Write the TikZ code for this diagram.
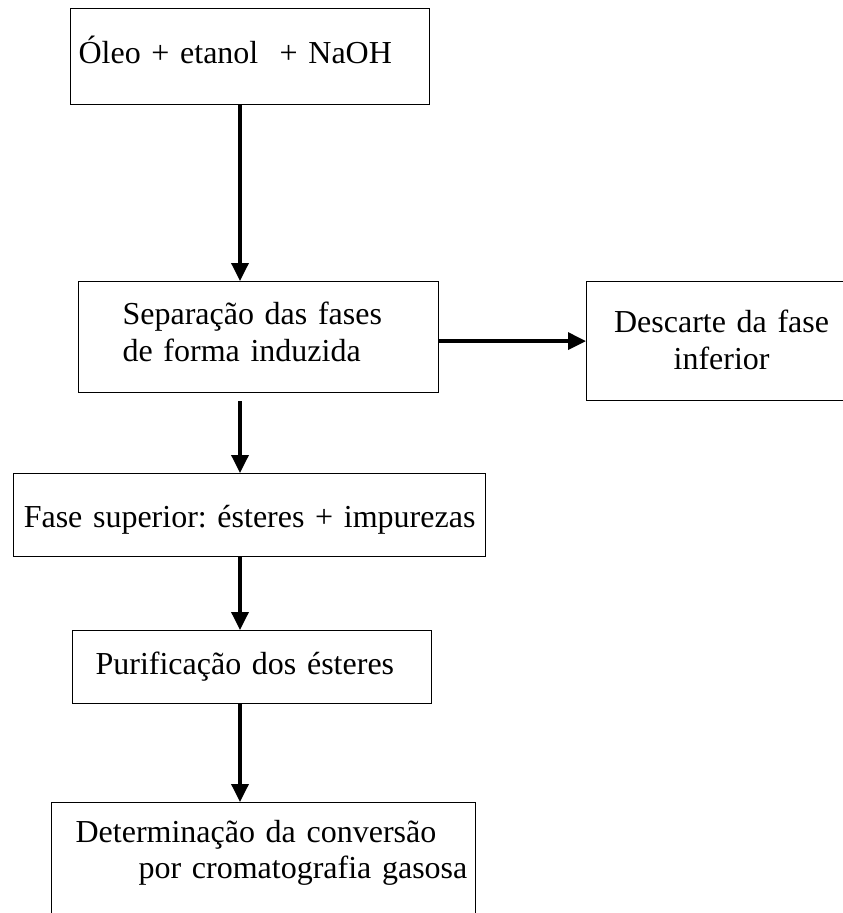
\documentclass[tikz,border=0pt]{standalone}
\usepackage{fontspec}
\setmainfont{Liberation Serif}
\usetikzlibrary{arrows.meta}

\begin{document}
\frenchspacing
\begin{tikzpicture}[x=1pt,y=-1pt,font=\fontsize{32}{37}\selectfont,
  caixa/.style={draw,line width=1.2pt,inner ysep=0pt,anchor=north west},
  seta/.style={-{Triangle[length=18pt,width=17pt]},line width=3.5pt}]
  \clip (0,0) rectangle (843,913);
  \coordinate (eixo) at (240,0);
  % etapas do processo
  \node[caixa,minimum width=359pt,text height=55pt,text depth=41pt,inner xsep=8pt,
    text width=343pt,align=left] (oleo) at (70,8) {Óleo + etanol \ + NaOH};
  \node[caixa,minimum width=360pt,text height=43pt,text depth=68pt,inner xsep=44pt,
    text width=272pt,align=left] (separacao) at (78,281)
    {Separação das fases\\de forma induzida};
  \node[caixa,minimum width=270pt,text height=51pt,text depth=68pt,inner xsep=10pt,
    text width=250pt,align=center] (descarte) at (586,281)
    {Descarte da fase\\inferior};
  \node[caixa,minimum width=472pt,text height=54pt,text depth=29pt,inner xsep=2pt,
    text width=468pt,align=center] (fase) at (13,473)
    {Fase superior: ésteres + impurezas};
  \node[caixa,minimum width=359pt,text height=44pt,text depth=29pt,inner xsep=23pt,
    text width=313pt,align=left] (purificacao) at (72,630)
    {Purificação dos ésteres};
  \node[caixa,minimum width=424pt,text height=40pt,text depth=150pt,inner xsep=0pt,
    text width=424pt,align=left,font=\fontsize{32}{35.5}\selectfont] (conversao) at (51,802)
    {\hspace*{24pt}Determinação da conversão\\
     \hspace*{87pt}por cromatografia gasosa};
  % setas
  \draw[seta] (oleo.south -| eixo) -- (separacao.north -| eixo);
  \draw[seta] (separacao.east |- descarte.west) -- (descarte.west);
  \draw[seta,shorten <=8pt] (separacao.south -| eixo) -- (fase.north -| eixo);
  \draw[seta] (fase.south -| eixo) -- (purificacao.north -| eixo);
  \draw[seta] (purificacao.south -| eixo) -- (conversao.north -| eixo);
\end{tikzpicture}
\end{document}
